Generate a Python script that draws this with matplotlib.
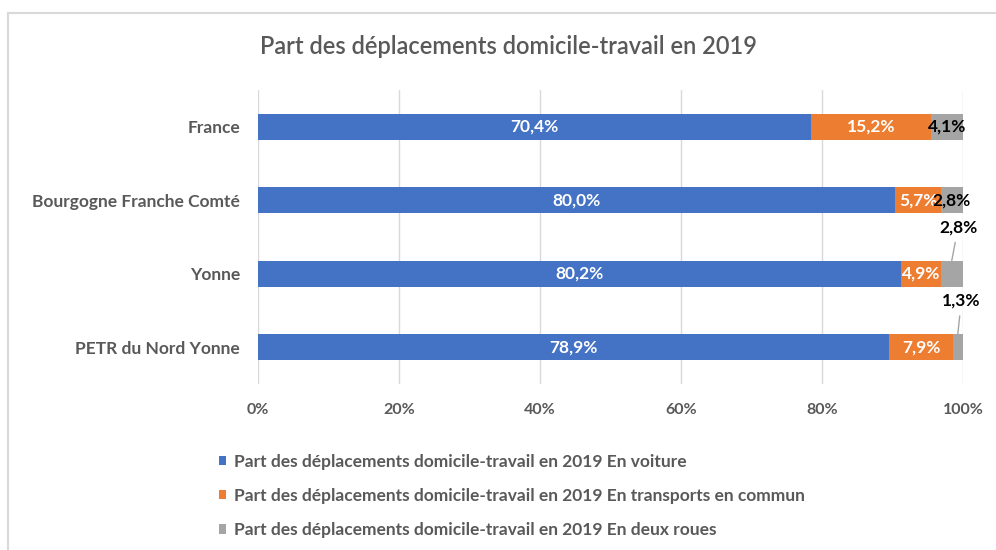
import matplotlib
matplotlib.use("Agg")
import matplotlib.pyplot as plt
import numpy as np
from matplotlib.patches import Patch
from matplotlib.lines import Line2D

plt.rcParams['font.family'] = ['Lato', 'DejaVu Sans']

categories = ["France", "Bourgogne Franche Comté", "Yonne", "PETR du Nord Yonne"]
voiture = [70.4, 80.0, 80.2, 78.9]
transports = [15.2, 5.7, 4.9, 7.9]
deux_roues = [4.1, 2.8, 2.8, 1.3]
series_names = [
    "Part des déplacements domicile-travail en 2019 En voiture",
    "Part des déplacements domicile-travail en 2019 En transports en commun",
    "Part des déplacements domicile-travail en 2019 En deux roues",
]
tick_labels = ["0%", "20%", "40%", "60%", "80%", "100%"]
title = "Part des déplacements domicile-travail en 2019"

colors = ["#4472C4", "#ED7D31", "#A5A5A5"]
text_grey = "#595959"

raw = np.array([voiture, transports, deux_roues], dtype=float)
shares = raw / raw.sum(axis=0)

fig = plt.figure(figsize=(9.96, 5.5), dpi=100)
ax = fig.add_axes([258 / 996, 1 - 384 / 550, 705 / 996, 294 / 550])

y = np.arange(len(categories))
left = np.zeros(len(categories))
bar_h = 0.36
lab_size = 12.5
for i in range(3):
    ax.barh(y, shares[i], left=left, height=bar_h, color=colors[i], zorder=3)
    centers = left + shares[i] / 2
    for j in range(len(categories)):
        label = f"{raw[i, j]:.1f}%".replace(".", ",")
        if i < 2:
            ax.text(centers[j], y[j], label, ha="center", va="center",
                    color="white", fontsize=lab_size, fontweight="bold", zorder=4)
        else:
            if j in (0, 1):
                ax.text(centers[j], y[j], label, ha="center", va="center",
                        color="black", fontsize=lab_size, fontweight="bold", zorder=4)
            else:
                # small segments get an outside label with a leader line
                xt = centers[j] + (0.009 if j == 2 else 0.005)
                yt = y[j] - 0.63
                ax.annotate(label, xy=(centers[j], y[j] - bar_h / 2),
                            xytext=(xt, yt), ha="center", va="center",
                            color="black", fontsize=lab_size, fontweight="bold",
                            annotation_clip=False, zorder=4,
                            arrowprops=dict(arrowstyle="-", color="#A5A5A5",
                                            lw=1.0, shrinkA=3, shrinkB=0))
    left = left + shares[i]

ax.set_xlim(0, 1)
ax.set_ylim(len(categories) - 0.5, -0.5)
ax.set_xticks(np.linspace(0, 1, 6))
ax.set_xticklabels(tick_labels, color=text_grey, fontsize=11.5, fontweight="bold")
ax.set_yticks(y)
ax.set_yticklabels(categories, color=text_grey, fontsize=12.5, fontweight="bold")
ax.tick_params(axis="both", length=0)
ax.tick_params(axis="x", pad=14)
ax.tick_params(axis="y", pad=13)
ax.grid(axis="x", color="#D9D9D9", lw=1, zorder=0)
for s in ax.spines.values():
    s.set_visible(False)

fig.text(508 / 996, 1 - 47 / 550, title, ha="center", va="center",
         color=text_grey, fontsize=17, fontweight="semibold")

handles = [Patch(facecolor=c, edgecolor="none") for c in colors]
leg = fig.legend(handles, series_names, loc="upper left",
                 bbox_to_anchor=(203 / 996, 1 - 438 / 550), frameon=False,
                 prop={"size": 12.5, "weight": "bold"}, labelcolor=text_grey,
                 handlelength=0.45, handleheight=0.45, handletextpad=0.45,
                 labelspacing=1.05)

# chart frame
fig.add_artist(Line2D([8 / 996, 1], [1 - 13 / 550] * 2, transform=fig.transFigure,
                      color="#D9D9D9", lw=1.5))
fig.add_artist(Line2D([8 / 996] * 2, [0, 1 - 13 / 550], transform=fig.transFigure,
                      color="#D9D9D9", lw=1.5))

fig.savefig("out.png", dpi=100)
